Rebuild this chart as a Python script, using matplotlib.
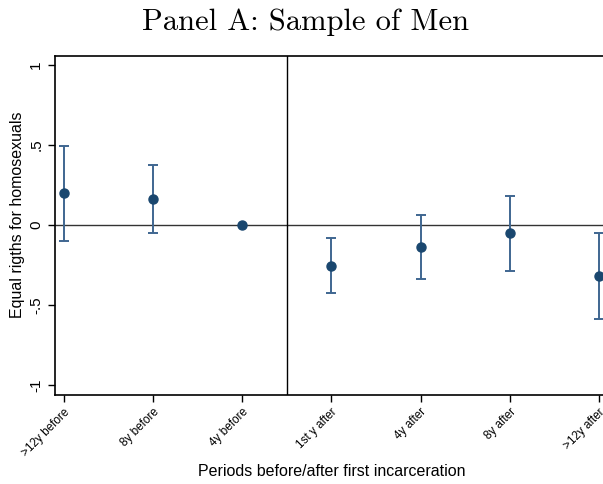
import matplotlib
matplotlib.use("Agg")
import matplotlib.pyplot as plt
import numpy as np

plt.rcParams["font.family"] = ["Liberation Sans", "DejaVu Sans"]

categories = [">12y before", "8y before", "4y before", "1st y after", "4y after", "8y after", ">12y after"]
coef = [0.20, 0.165, 0.0, -0.254, -0.138, -0.052, -0.319]
ci_low = [-0.10, -0.05, 0.0, -0.425, -0.335, -0.288, -0.585]
ci_high = [0.494, 0.375, 0.0, -0.081, 0.06, 0.18, -0.05]
yticks = [1, 0.5, 0, -0.5, -1]
yticklabels = ["1", ".5", "0", "-.5", "-1"]

fig = plt.figure(figsize=(6.03, 4.84), dpi=100)
ax = fig.add_axes([55/603, 1 - 395/484, 1 - 55/603 + 0.002, (395 - 56)/484])

x = np.arange(len(categories))
c = np.array(coef); lo = np.array(ci_low); hi = np.array(ci_high)
mask = hi > lo
ax.errorbar(x[mask], c[mask], yerr=[c[mask] - lo[mask], hi[mask] - c[mask]], fmt="none",
            ecolor="#3f6690", elinewidth=1.4, capsize=3.5, capthick=1.4, zorder=3)
ax.plot(x, c, "o", color="#1a476f", markersize=6.5, zorder=4, clip_on=False)

ax.axhline(0, color="#333333", linewidth=1.0, zorder=2)
ax.axvline(2.5, color="black", linewidth=1.0, zorder=2)

ax.set_xlim(-0.1, 6.06)
ax.set_ylim(-1.0625, 1.056)
ax.set_yticks(yticks)
ax.set_yticklabels(yticklabels, rotation=90, va="center", fontsize=11)
ax.set_xticks(x)
ax.set_xticklabels(categories, rotation=45, ha="right", rotation_mode="anchor", fontsize=8.5)
ax.tick_params(axis="both", direction="out", length=5, width=1, colors="black")
ax.tick_params(axis="x", pad=3)

for s in ["left", "bottom", "top"]:
    ax.spines[s].set_linewidth(1.2)
ax.spines["right"].set_visible(False)

fig.text(18/603, 1 - 215/484, "Equal rigths for homosexuals", rotation=90, ha="center", va="center", fontsize=11.5)
fig.text(332/603, 1 - 472/484, "Periods before/after first incarceration", ha="center", va="center", fontsize=11.5)
fig.text(306/603, 1 - 22/484, "Panel A: Sample of Men", ha="center", va="center", fontsize=22, family="cmr10")

fig.savefig("out.png", dpi=100)
